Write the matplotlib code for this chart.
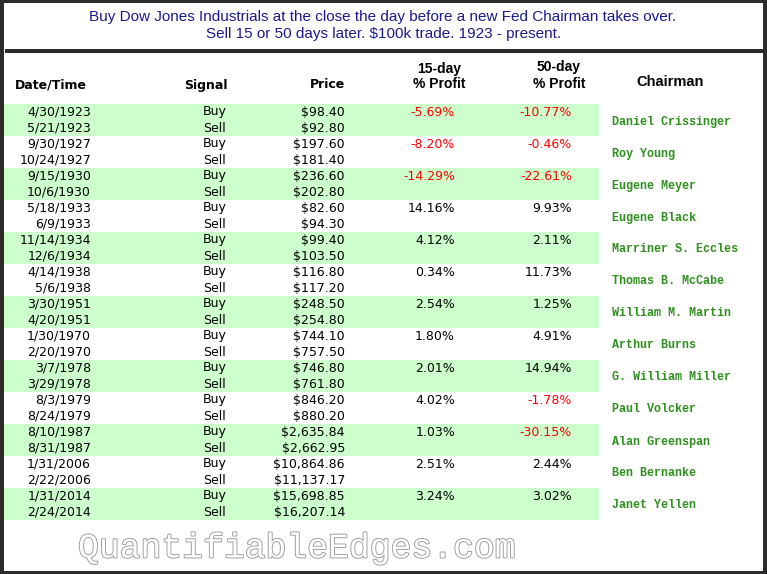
import matplotlib
matplotlib.use("Agg")
import matplotlib.pyplot as plt
from matplotlib.patches import Rectangle
import matplotlib.patheffects as pe

# ---------------- data ----------------
title_lines = ["Buy Dow Jones Industrials at the close the day before a new Fed Chairman takes over.",
               "Sell 15 or 50 days later. $100k trade. 1923 - present."]
buy_dates = ["4/30/1923", "9/30/1927", "9/15/1930", "5/18/1933", "11/14/1934", "4/14/1938",
             "3/30/1951", "1/30/1970", "3/7/1978", "8/3/1979", "8/10/1987", "1/31/2006", "1/31/2014"]
sell_dates = ["5/21/1923", "10/24/1927", "10/6/1930", "6/9/1933", "12/6/1934", "5/6/1938",
              "4/20/1951", "2/20/1970", "3/29/1978", "8/24/1979", "8/31/1987", "2/22/2006", "2/24/2014"]
buy_prices = ["$98.40", "$197.60", "$236.60", "$82.60", "$99.40", "$116.80", "$248.50",
              "$744.10", "$746.80", "$846.20", "$2,635.84", "$10,864.86", "$15,698.85"]
sell_prices = ["$92.80", "$181.40", "$202.80", "$94.30", "$103.50", "$117.20", "$254.80",
               "$757.50", "$761.80", "$880.20", "$2,662.95", "$11,137.17", "$16,207.14"]
profit_15 = [-5.69, -8.20, -14.29, 14.16, 4.12, 0.34, 2.54, 1.80, 2.01, 4.02, 1.03, 2.51, 3.24]
profit_50 = [-10.77, -0.46, -22.61, 9.93, 2.11, 11.73, 1.25, 4.91, 14.94, -1.78, -30.15, 2.44, 3.02]
chairmen = ["Daniel Crissinger", "Roy Young", "Eugene Meyer", "Eugene Black", "Marriner S. Eccles",
            "Thomas B. McCabe", "William M. Martin", "Arthur Burns", "G. William Miller",
            "Paul Volcker", "Alan Greenspan", "Ben Bernanke", "Janet Yellen"]
watermark = "QuantifiableEdges.com"

# ---------------- layout ----------------
W, H = 767, 574
fig = plt.figure(figsize=(W / 100, H / 100), dpi=100)
ax = fig.add_axes([0, 0, 1, 1])
ax.set_xlim(0, W)
ax.set_ylim(H, 0)
ax.axis("off")

dark = "#2b2b2b"
green_bg = "#ccffcc"
navy = "#1a1a8c"
name_green = "#2f8f1f"

# outer frame
ax.add_patch(Rectangle((0, 0), W, H, facecolor=dark, edgecolor="none"))
ax.add_patch(Rectangle((4, 3), W - 8, H - 6, facecolor="white", edgecolor="none"))
# header separator
ax.add_patch(Rectangle((5, 48.5), W - 9, 4, facecolor=dark, edgecolor="none"))

narrow = ["Liberation Sans Narrow", "Liberation Sans", "DejaVu Sans"]
ax.text(383, 17, title_lines[0], ha="center", va="center", fontsize=11,
        color=navy, family=narrow)
ax.text(383, 34, title_lines[1], ha="center", va="center", fontsize=11,
        color=navy, family=narrow)

# column headers
hdr_kw = dict(fontsize=9, fontweight="bold", color="black", family="DejaVu Sans")
ax.text(15, 85, "Date/Time", ha="left", va="center", **hdr_kw)
ax.text(206, 85, "Signal", ha="center", va="center", **hdr_kw)
ax.text(345, 85, "Price", ha="right", va="center", **hdr_kw)
nkw = dict(fontsize=10, fontweight="bold", color="black", family=narrow)
ax.text(439, 69, "15-day", ha="center", va="center", **nkw)
ax.text(439, 84, "% Profit", ha="center", va="center", **nkw)
ax.text(559, 67, "50-day", ha="center", va="center", **nkw)
ax.text(559, 84, "% Profit", ha="center", va="center", **nkw)
ax.text(636, 82, "Chairman", ha="left", va="center", fontsize=10.5,
        fontweight="bold", color="black", family=["Liberation Sans", "DejaVu Sans"])

# rows
top = 103.5
pitch = 16
cell_kw = dict(fontsize=9, family="DejaVu Sans", va="center")
for i in range(len(buy_dates)):
    y0 = top + 2 * pitch * i
    if i % 2 == 0:
        ax.add_patch(Rectangle((4, y0), 595, 2 * pitch, facecolor=green_bg, edgecolor="none"))
    y1 = y0 + pitch / 2 + 0.5
    y2 = y1 + pitch
    ax.text(91, y1, buy_dates[i], ha="right", color="black", **cell_kw)
    ax.text(91, y2, sell_dates[i], ha="right", color="black", **cell_kw)
    ax.text(215, y1, "Buy", ha="center", color="black", **cell_kw)
    ax.text(215, y2, "Sell", ha="center", color="black", **cell_kw)
    ax.text(345, y1, buy_prices[i], ha="right", color="black", **cell_kw)
    ax.text(345, y2, sell_prices[i], ha="right", color="black", **cell_kw)
    for val, xr in ((profit_15[i], 455), (profit_50[i], 572)):
        col = "#ff0000" if val < 0 else "black"
        ax.text(xr, y1, f"{val:.2f}%", ha="right", color=col, **cell_kw)
    ax.text(612, y0 + 18, chairmen[i], ha="left", va="center", fontsize=8.5,
            fontweight="bold", family=["Liberation Mono", "DejaVu Sans Mono"],
            color=name_green)

# watermark
ax.text(78, 548, watermark, ha="left", va="center", fontsize=25,
        family=["Liberation Mono", "DejaVu Sans Mono"], color="white",
        path_effects=[pe.Stroke(linewidth=1.3, foreground="#9a9a9a"), pe.Normal()])

fig.savefig("out.png", dpi=100)
